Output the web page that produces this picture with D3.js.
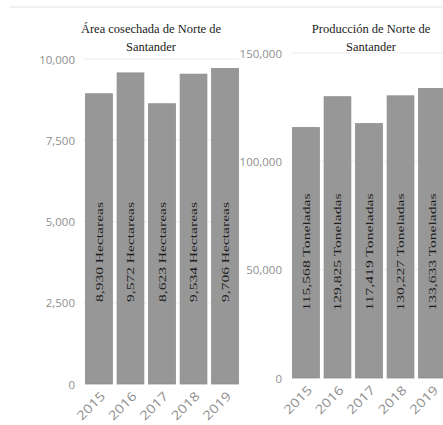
<!DOCTYPE html>
<html>
<head>
<meta charset="utf-8">
<script src="https://cdn.jsdelivr.net/npm/d3@7"></script>
<style>
  html, body { margin: 0; padding: 0; background: #fff; }
  svg { display: block; }
</style>
</head>
<body>
<svg id="chart" width="443" height="425"></svg>
<script>
const years = ["2015", "2016", "2017", "2018", "2019"];
const areaValues = [8930, 9572, 8623, 9534, 9706];
const prodValues = [115568, 129825, 117419, 130227, 133633];
const areaTicks = [0, 2500, 5000, 7500, 10000];
const prodTicks = [0, 50000, 100000, 150000];
const areaTitle = ["Área cosechada de Norte de", "Santander"];
const prodTitle = ["Producción de Norte de", "Santander"];
const areaUnit = "Hectareas";
const prodUnit = "Toneladas";

const svg = d3.select("#chart");
const fmt = d3.format(",");

// top separator line
svg.append("line").attr("x1", 10).attr("x2", 443).attr("y1", 7).attr("y2", 7)
  .attr("stroke", "#e2e2e2").attr("stroke-width", 1);

function drawChart(cfg) {
  const x = d3.scaleBand().domain(years).range(cfg.xRange).paddingInner(0.15).paddingOuter(0.05);
  const y = d3.scaleLinear().domain(cfg.yDomain).range(cfg.yRange);
  const g = svg.append("g");

  const yAxis = d3.axisLeft(y).tickValues(cfg.ticks).tickFormat(fmt).tickSize(0).tickPadding(0);
  const ga = g.append("g").attr("transform", `translate(${cfg.labelX},0)`).call(yAxis);
  ga.select(".domain").remove();
  ga.selectAll("text").attr("font-family", "'Open Sans', sans-serif").attr("font-size", 11.5)
    .attr("fill", "#8f8f8f").attr("text-anchor", "end").attr("dy", "0.35em").attr("x", 0);

  g.selectAll(".grid").data(cfg.ticks.filter(t => t > 0)).join("line")
    .attr("x1", cfg.gridX[0]).attr("x2", cfg.gridX[1])
    .attr("y1", d => y(d)).attr("y2", d => y(d))
    .attr("stroke", "#ececec").attr("stroke-width", 1);

  cfg.title.forEach((t, i) => {
    g.append("text").attr("x", cfg.titleX).attr("y", 33 + i * 18)
      .attr("text-anchor", "middle").attr("font-family", "'Liberation Serif', serif")
      .attr("font-size", 12.5).attr("fill", "#222").text(t);
  });

  g.selectAll(".bar").data(cfg.values).join("rect")
    .attr("x", (d, i) => x(years[i])).attr("width", x.bandwidth())
    .attr("y", d => y(d)).attr("height", d => y(0) - y(d))
    .attr("fill", "#979797").attr("stroke", "#8c8c8c").attr("stroke-width", 0.8);

  g.selectAll(".blabel").data(cfg.values).join("text")
    .attr("transform", (d, i) => `translate(${x(years[i]) + x.bandwidth() / 2},${cfg.labelY}) rotate(-90)`)
    .attr("text-anchor", "middle").attr("dy", "0.35em")
    .attr("font-family", "'Liberation Serif', serif").attr("font-size", 11)
    .attr("fill", "#1e1e1e")
    .attr("textLength", cfg.labelLen).attr("lengthAdjust", "spacingAndGlyphs")
    .text(d => fmt(d) + " " + cfg.unit);

  g.selectAll(".xlabel").data(years).join("text")
    .attr("transform", d => `translate(${x(d) + x.bandwidth() / 2 + 7},${y(0) + 13}) rotate(-45)`)
    .attr("text-anchor", "end").attr("font-family", "'Open Sans', sans-serif")
    .attr("font-size", 12.5).attr("fill", "#8f8f8f")
    .attr("textLength", 34).attr("lengthAdjust", "spacingAndGlyphs")
    .text(d => d);
}

drawChart({
  values: areaValues, ticks: areaTicks, yDomain: [0, 10000], yRange: [384, 59],
  xRange: [84, 240], labelX: 75, gridX: [83, 239], title: areaTitle, titleX: 151,
  unit: areaUnit, labelY: 252, labelLen: 100
});
drawChart({
  values: prodValues, ticks: prodTicks, yDomain: [0, 150000], yRange: [378, 53],
  xRange: [291, 447], labelX: 282, gridX: [292, 443], title: prodTitle, titleX: 371,
  unit: prodUnit, labelY: 252, labelLen: 117
});
</script>
</body>
</html>
